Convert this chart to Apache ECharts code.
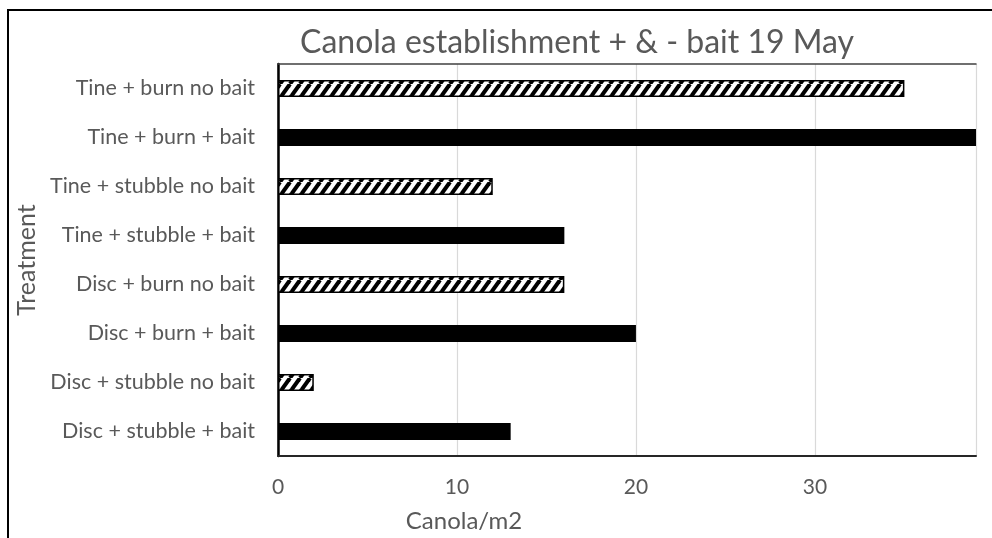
<!DOCTYPE html>
<html>
<head>
<meta charset="utf-8">
<script src="https://cdn.jsdelivr.net/npm/echarts@6/dist/echarts.min.js"></script>
<style>
  html, body { margin: 0; padding: 0; background: #fff; }
  #chart { width: 992px; height: 538px; }
</style>
</head>
<body>
<div id="chart"></div>
<script>
// Treatments, listed bottom to top as the category axis draws them
const categories = [
  'Disc + stubble + bait',
  'Disc + stubble no bait',
  'Disc + burn + bait',
  'Disc + burn no bait',
  'Tine + stubble + bait',
  'Tine + stubble no bait',
  'Tine + burn + bait',
  'Tine + burn no bait'
];
// Canola plants per square metre
const values = [13, 2, 20, 16, 16, 12, 39, 35];
// true where the plots were baited
const baited = [true, false, true, false, true, false, true, false];
const xTicks = [0, 10, 20, 30];

const FONT = 'Lato, "Open Sans", sans-serif';
const TEXT = '#595959';

// Diagonal black/white hatch used for the unbaited treatments
function hatchPattern() {
  const w = 10, h = 14;
  const c = document.createElement('canvas');
  c.width = w; c.height = h;
  const ctx = c.getContext('2d');
  ctx.fillStyle = '#fff';
  ctx.fillRect(0, 0, w, h);
  ctx.strokeStyle = '#000';
  ctx.lineWidth = 4;
  for (let k = -1; k <= 1; k++) {
    ctx.beginPath();
    ctx.moveTo(k * w, h);
    ctx.lineTo(k * w + w, 0);
    ctx.stroke();
  }
  return c;
}
const hatch = { image: hatchPattern(), repeat: 'repeat' };

const chart = echarts.init(document.getElementById('chart'));
chart.setOption({
  animation: false,
  backgroundColor: '#fff',
  textStyle: { fontFamily: FONT },
  title: {
    text: 'Canola establishment + & - bait 19 May',
    left: 572, top: 22, textAlign: 'center',
    textStyle: { fontFamily: FONT, fontSize: 32, fontWeight: 'normal', color: TEXT }
  },
  graphic: [{
    type: 'rect',
    shape: { x: 8, y: 10, width: 1100, height: 700 },
    style: { fill: 'none', stroke: '#000', lineWidth: 2 },
    silent: true
  }],
  grid: { left: 278, right: 16, top: 64, bottom: 75, containLabel: false },
  xAxis: [{
    type: 'value', min: 0, max: 39, interval: 10,
    name: 'Canola/m2', nameLocation: 'middle', nameGap: 53,
    nameTextStyle: { fontFamily: FONT, fontSize: 24, color: TEXT, padding: [0, 326, 0, 0] },
    axisLine: { show: true, lineStyle: { color: '#262626', width: 2 } },
    axisTick: { show: false },
    axisLabel: {
      margin: 21, fontFamily: FONT, fontSize: 21, color: TEXT,
      showMaxLabel: false,
      formatter: v => xTicks.includes(v) ? String(v) : ''
    },
    splitLine: { show: true, lineStyle: { color: '#d9d9d9', width: 1.2 } }
  }, {
    type: 'value', position: 'top', min: 0, max: 39,
    axisLine: { show: true, lineStyle: { color: '#404040', width: 1.5 } },
    axisTick: { show: false }, axisLabel: { show: false }, splitLine: { show: false }
  }],
  yAxis: [{
    type: 'category', data: categories,
    name: 'Treatment', nameLocation: 'middle', nameGap: 232, nameRotate: 90,
    nameTextStyle: { fontFamily: FONT, fontSize: 25, color: TEXT },
    axisLine: { show: true, lineStyle: { color: '#bfbfbf', width: 1.5 } },
    axisTick: { show: false },
    axisLabel: { margin: 23, fontFamily: FONT, fontSize: 21.5, color: TEXT }
  }, {
    type: 'category', position: 'right', data: categories,
    axisLine: { show: true, lineStyle: { color: '#000', width: 2.5 } },
    axisTick: { show: false }, axisLabel: { show: false }
  }],
  series: [{
    type: 'bar',
    barWidth: '35%',
    clip: true,
    data: values.map((v, i) => ({
      value: v,
      itemStyle: baited[i]
        ? { color: '#000' }
        : { color: hatch, borderColor: '#000', borderWidth: 1.5 }
    }))
  }]
});
</script>
</body>
</html>
